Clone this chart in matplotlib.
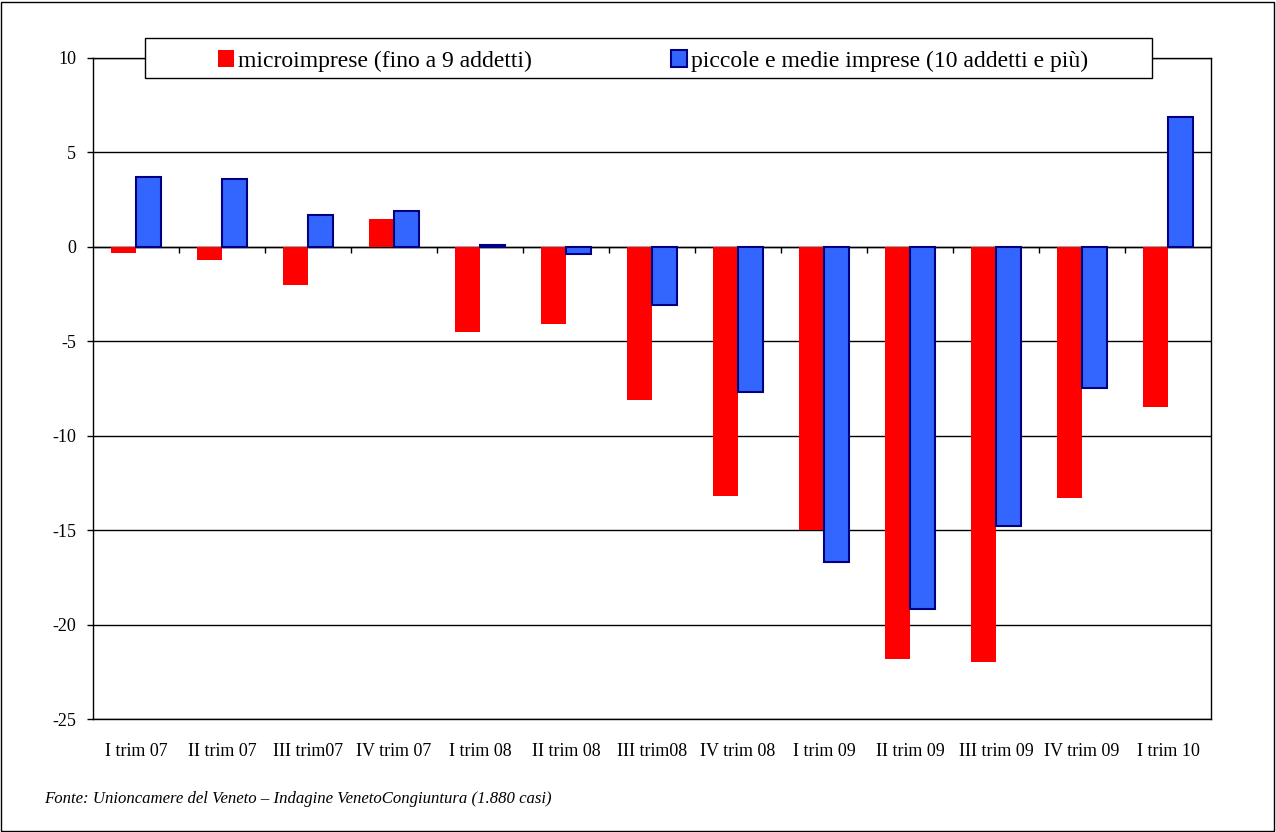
import numpy as np
import matplotlib
matplotlib.use('Agg')
import matplotlib.pyplot as plt
from matplotlib.patches import Rectangle

plt.rcParams['font.family'] = ['Liberation Serif', 'DejaVu Serif']

# trimestri e valori (saldi %)
labels = ['I trim 07', 'II trim 07', 'III trim07', 'IV trim 07', 'I trim 08',
          'II trim 08', 'III trim08', 'IV trim 08', 'I trim 09', 'II trim 09',
          'III trim 09', 'IV trim 09', 'I trim 10']
micro = [-0.3, -0.7, -2.0, 1.5, -4.5, -4.1, -8.1, -13.2, -15.0, -21.8, -22.0, -13.3, -8.5]
pmi = [3.7, 3.6, 1.7, 1.9, 0.1, -0.4, -3.1, -7.7, -16.7, -19.2, -14.8, -7.5, 6.9]
yticks = [-25, -20, -15, -10, -5, 0, 5, 10]

W, H = 1276, 832
fig = plt.figure(figsize=(W / 100, H / 100), dpi=100)
ax = fig.add_axes([93 / W, 1 - 719 / H, (1211 - 93) / W, (719 - 58) / H])

x = np.arange(len(labels))
bw = 0.29
ax.bar(x - bw / 2, micro, bw, color='#FF0000', edgecolor='none', zorder=3,
       label='microimprese (fino a 9 addetti)')
ax.bar(x + bw / 2, pmi, bw, color='#3366FF', edgecolor='#000080', linewidth=1.5,
       zorder=3, label='piccole e medie imprese (10 addetti e più)')

ax.set_xlim(-0.5, len(labels) - 0.5)
ax.set_ylim(-25, 10)
ax.set_yticks(yticks)
ax.set_yticklabels([str(v) for v in yticks], fontsize=13)
ax.yaxis.grid(True, color='black', linewidth=1)
ax.set_axisbelow(True)
ax.tick_params(axis='y', length=4, width=1, pad=8)

ax.set_xticks(x)
ax.set_xticklabels(labels, fontsize=13)
ax.tick_params(axis='x', length=0, pad=17)

for s in ax.spines.values():
    s.set_linewidth(1)
    s.set_color('black')

# asse dello zero con tacche
ax.axhline(0, color='black', linewidth=1, zorder=2)
ax.vlines(np.arange(len(labels) - 1) + 0.5, -0.3, 0, color='black', linewidth=1, zorder=2)

# legenda con cornice larga
fig.patches.append(Rectangle((145 / W, 1 - 78 / H), (1152 - 145) / W, 40 / H,
                             transform=fig.transFigure, facecolor='white',
                             edgecolor='black', linewidth=1, zorder=5))
leg = fig.legend(loc='center', bbox_to_anchor=(653 / W, 1 - 61 / H), ncol=2,
                 frameon=False, fontsize=17, handlelength=0.68, handleheight=0.75,
                 handletextpad=0.17, columnspacing=5.9)
leg.set_zorder(6)

fig.text(44 / W, 1 - 799 / H,
         'Fonte: Unioncamere del Veneto – Indagine VenetoCongiuntura (1.880 casi)',
         fontsize=12.1, style='italic', va='center', ha='left')

# cornice esterna
fig.patches.append(Rectangle((1 / W, 1 / H), (W - 3) / W, (H - 3) / H,
                             transform=fig.transFigure, fill=False,
                             edgecolor='black', linewidth=1))

fig.savefig('out.png', dpi=100)
